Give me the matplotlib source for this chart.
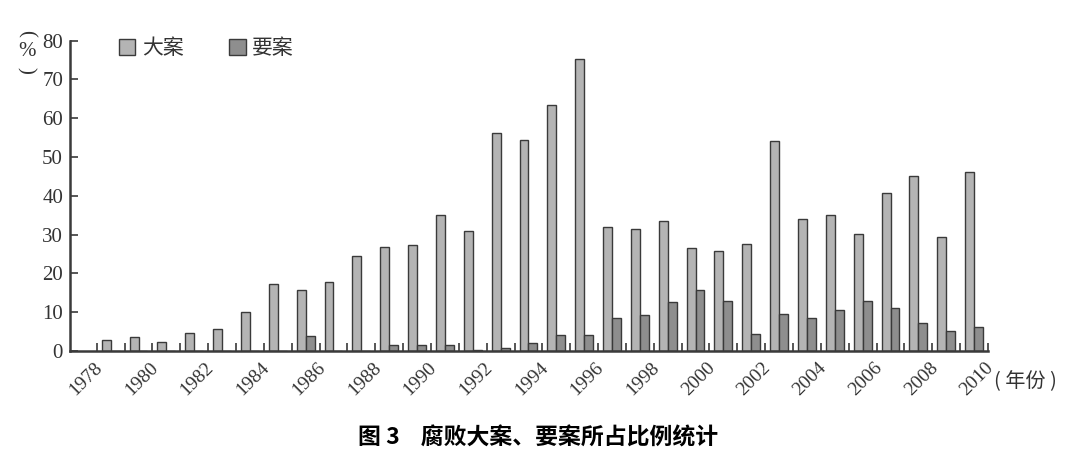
import matplotlib
matplotlib.use("Agg")
from matplotlib import pyplot as plt
from matplotlib.transforms import ScaledTranslation
import numpy as np

# tick labels on the x axis (placed on every other tick)
year_labels = [str(y) for y in range(1978, 2011, 2)]

# share of big cases (大案) and key cases (要案), in percent, one pair per slot
da_an = [2.8, 3.5, 2.4, 4.6, 5.6, 10.1, 17.3, 15.6, 17.8, 24.6,
         26.8, 27.3, 35.1, 31.0, 56.1, 54.4, 63.3, 75.2, 32.0, 31.5,
         33.6, 26.5, 25.8, 27.5, 54.2, 34.0, 35.1, 30.1, 40.6, 45.1,
         29.5, 46.1]
yao_an = [0, 0, 0, 0, 0, 0, 0, 3.9, 0, 0,
          1.5, 1.5, 1.5, 0.3, 0.9, 2.0, 4.2, 4.2, 8.6, 9.2,
          12.5, 15.7, 13.0, 4.4, 9.5, 8.4, 10.6, 12.8, 11.1, 7.1,
          5.2, 6.3]

serif = ["Liberation Serif", "DejaVu Serif"]
cjk = ["Noto Sans CJK SC", "DejaVu Sans"]
edge = "#3a3a3a"
txt = "#333333"

fig = plt.figure(figsize=(10.8, 4.73), dpi=100)
ax = fig.add_axes([70 / 1080, 1 - 351 / 473, 918 / 1080, 310.5 / 473])

# each bar pair sits between two ticks
slot = np.arange(len(da_an))
w = 0.32
ax.bar(slot + 0.18, da_an, width=w, align="edge", color="#b4b4b4",
       edgecolor=edge, linewidth=1, label="大案")
ax.bar(slot + 0.50, yao_an, width=w, align="edge", color="#8e8e8e",
       edgecolor=edge, linewidth=1, label="要案")

ax.set_xlim(-0.96, len(da_an))
ax.set_ylim(0, 80)

for s in ["top", "right"]:
    ax.spines[s].set_visible(False)
for s in ["left", "bottom"]:
    ax.spines[s].set_color(edge)
    ax.spines[s].set_linewidth(1.8)

ax.set_xticks(np.arange(len(da_an) + 1))
ax.set_xticklabels([year_labels[i // 2] if i % 2 == 0 else "" for i in range(len(da_an) + 1)],
                   rotation=45, ha="right", rotation_mode="anchor",
                   family=serif, fontsize=14, color=txt)
ax.tick_params(axis="x", direction="in", length=6, width=1.2, color=edge, pad=6)
# nudge the year labels a little to the left
shift = ScaledTranslation(-3 / 100, 0, fig.dpi_scale_trans)
for lab in ax.get_xticklabels():
    lab.set_transform(lab.get_transform() + shift)

ax.set_yticks(range(0, 81, 10))
ax.set_yticklabels([str(v) for v in range(0, 81, 10)], family=serif,
                   fontsize=15, color=txt)
ax.tick_params(axis="y", direction="in", length=6, width=1.2, color=edge, pad=5)

# unit label "(%)" stacked vertically
fig.text(26 / 1080, 1 - 33 / 473, "(", rotation=-90, ha="center", va="center",
         family=serif, fontsize=15, color=txt)
fig.text(27 / 1080, 1 - 51 / 473, "%", ha="center", va="center",
         family=serif, fontsize=15, color=txt)
fig.text(26 / 1080, 1 - 70 / 473, ")", rotation=-90, ha="center", va="center",
         family=serif, fontsize=15, color=txt)

fig.text(994 / 1080, 1 - 382 / 473, "( 年份 )", ha="left", va="center",
         family=cjk, fontsize=14.5, color=txt)

ax.legend(loc="center left", bbox_to_anchor=(100 / 1080, 1 - 48 / 473),
          bbox_transform=fig.transFigure, ncol=2, frameon=False,
          handlelength=0.8, handleheight=0.8, handletextpad=0.3,
          columnspacing=2.2, prop={"family": cjk, "size": 15},
          labelcolor=txt)

fig.text(538 / 1080, 1 - 438 / 473, "图 3    腐败大案、要案所占比例统计",
         ha="center", va="center", family=cjk, fontweight="bold",
         fontsize=16.5, color="black")

fig.savefig("out.png", dpi=100)
